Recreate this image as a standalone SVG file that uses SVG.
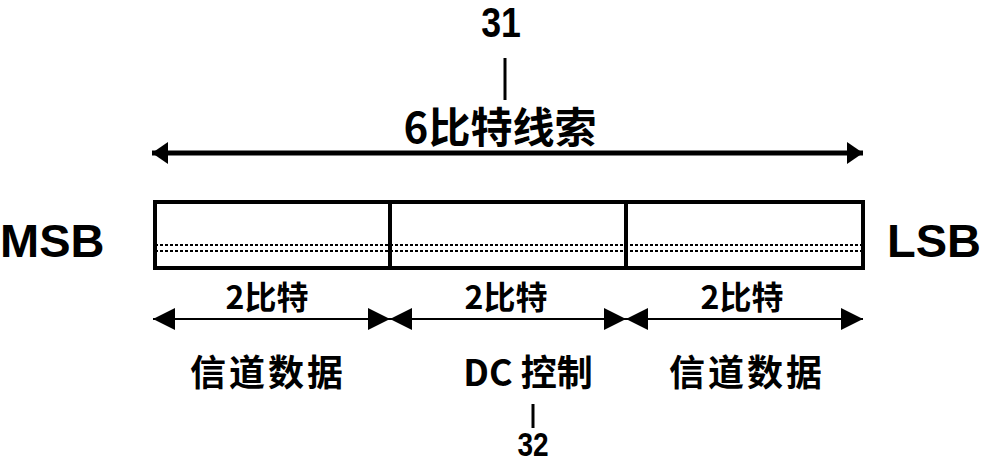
<svg xmlns="http://www.w3.org/2000/svg" width="984" height="465" viewBox="0 0 984 465">
<style>
.t{font-family:"Noto Sans CJK SC","Liberation Sans",sans-serif;font-weight:bold;fill:#000}
.l{font-family:"Liberation Sans",Arial,sans-serif;font-weight:bold;fill:#000}
.ln{stroke:#000;fill:none}
</style>
<defs>
<marker id="ah" viewBox="0 0 16 22" refX="16" refY="11" markerWidth="16" markerHeight="22" markerUnits="userSpaceOnUse" orient="auto-start-reverse"><path d="M0,0 L16,11 L0,22 Z" fill="#000"/></marker>
<marker id="ah2" viewBox="0 0 22 22" refX="22" refY="11" markerWidth="22" markerHeight="22" markerUnits="userSpaceOnUse" orient="auto-start-reverse"><path d="M0,0 L22,11 L0,22 Z" fill="#000"/></marker>
</defs>
<g id="label31">
<text class="l" x="501" y="37" font-size="42" text-anchor="middle" transform="translate(501,0) scale(0.85,1) translate(-501,0)">31</text>
</g>
<g id="label32">
<text class="l" x="533" y="456" font-size="33" text-anchor="middle" transform="translate(533,0) scale(0.85,1) translate(-533,0)">32</text>
</g>
<g id="register">
<rect x="155" y="202" width="708" height="66" class="ln" stroke-width="4"/>
<line x1="390" y1="202" x2="390" y2="268" class="ln" stroke-width="4"/>
<line x1="626" y1="202" x2="626" y2="268" class="ln" stroke-width="4"/>
<line x1="155" y1="245" x2="863" y2="245" class="ln" stroke-width="2" stroke-dasharray="3,2"/>
<line x1="155" y1="251" x2="863" y2="251" class="ln" stroke-width="2" stroke-dasharray="3,2"/>
</g>
<g id="msb"><text class="l" x="0" y="257" font-size="47">MSB</text></g>
<g id="lsb"><text class="l" x="887" y="257" font-size="47">LSB</text></g>
<g id="title"><text class="t" x="500" y="143" font-size="42" text-anchor="middle">6比特线索</text></g>
<g id="b1"><text class="t" x="267" y="309" font-size="32" text-anchor="middle">2比特</text></g>
<g id="b2"><text class="t" x="506" y="309" font-size="32" text-anchor="middle">2比特</text></g>
<g id="b3"><text class="t" x="742" y="309" font-size="32" text-anchor="middle">2比特</text></g>
<g id="f1"><text class="t" x="268" y="386" font-size="36" letter-spacing="3" text-anchor="middle">信道数据</text></g>
<g id="f2"><text class="t" x="528" y="386" font-size="36" text-anchor="middle">DC 控制</text></g>
<g id="f3"><text class="t" x="747" y="386" font-size="36" letter-spacing="3" text-anchor="middle">信道数据</text></g>
<g id="connectors">
<line x1="505" y1="58" x2="505" y2="100" class="ln" stroke-width="3"/>
<line x1="533" y1="404" x2="533" y2="428" class="ln" stroke-width="3"/>
<line x1="152" y1="153" x2="863" y2="153" class="ln" stroke-width="5" marker-start="url(#ah)" marker-end="url(#ah)"/>
<line x1="153" y1="319" x2="390" y2="319" class="ln" stroke-width="2" marker-start="url(#ah2)" marker-end="url(#ah2)"/>
<line x1="390" y1="319" x2="626" y2="319" class="ln" stroke-width="2" marker-start="url(#ah2)" marker-end="url(#ah2)"/>
<line x1="626" y1="319" x2="863" y2="319" class="ln" stroke-width="2" marker-start="url(#ah2)" marker-end="url(#ah2)"/>
</g>
</svg>
